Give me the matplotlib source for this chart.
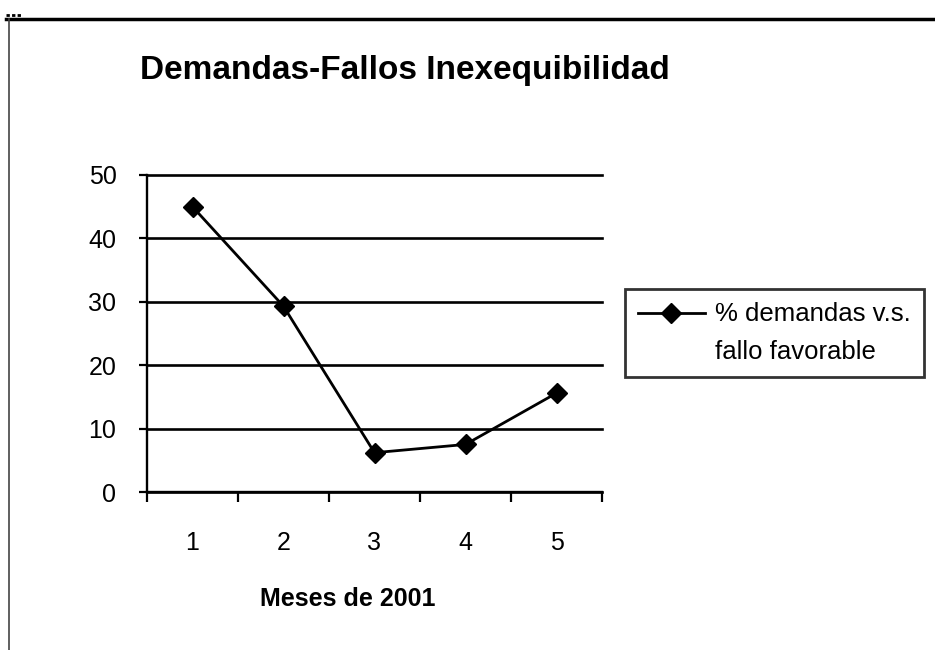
import matplotlib
matplotlib.use("Agg")
import matplotlib.pyplot as plt
from matplotlib.lines import Line2D
from matplotlib.legend_handler import HandlerLine2D

months = [1, 2, 3, 4, 5]
values = [45, 29.3, 6.2, 7.5, 15.6]
yticks = [0, 10, 20, 30, 40, 50]
title = "Demandas-Fallos Inexequibilidad"
xlabel = "Meses de 2001"
series_label = "% demandas v.s.\nfallo favorable"

plt.rcParams['font.family'] = ['Liberation Sans', 'DejaVu Sans']


class ShiftedLineHandler(HandlerLine2D):
    """Line handle aligned with the first line of a two-line label."""
    def __init__(self, shift, **kw):
        super().__init__(**kw)
        self.shift = shift

    def create_artists(self, legend, orig_handle, xdescent, ydescent,
                       width, height, fontsize, trans):
        arts = super().create_artists(legend, orig_handle, xdescent, ydescent,
                                      width, height, fontsize, trans)
        for a in arts:
            a.set_ydata([y + self.shift for y in a.get_ydata()])
        return arts


fig = plt.figure(figsize=(9.35, 6.5), dpi=100)
fig.patch.set_facecolor('white')
ax = fig.add_axes([147/935, 1-492/650, (602-147)/935, (492-175)/650])

line, = ax.plot(months, values, color='black', lw=2, marker='D', markersize=10,
                markerfacecolor='black', markeredgecolor='black', label=series_label)

ax.set_xlim(0.5, 5.5)
ax.set_ylim(0, 50)
ax.set_yticks(yticks)
ax.yaxis.grid(True, color='black', lw=1.9)
ax.set_axisbelow(True)
for gl in ax.get_ygridlines():
    gl.set_clip_on(False)
for s in ['top', 'right']:
    ax.spines[s].set_visible(False)
for s in ['left', 'bottom']:
    ax.spines[s].set_linewidth(1.7)
    ax.spines[s].set_color('black')

ax.set_xticks([0.5, 1.5, 2.5, 3.5, 4.5, 5.5])
ax.set_xticklabels([])
ax.set_xticks(months, minor=True)
ax.set_xticklabels([str(m) for m in months], minor=True)
ax.tick_params(axis='x', which='major', length=7, width=1.6, direction='out')
ax.tick_params(axis='x', which='minor', length=0, pad=28, labelsize=18)
ax.tick_params(axis='y', length=6, width=1.6, direction='out', pad=16, labelsize=18)

ax.set_xlabel(xlabel, fontsize=18, fontweight='bold')
ax.xaxis.set_label_coords(0.442, -0.30)

fig.text(405/935, 1-71/650, title, fontsize=24, fontweight='bold', ha='center', va='center')

leg = ax.legend(loc='upper left', bbox_to_anchor=(625/935, 1-289/650),
                bbox_transform=fig.transFigure, borderaxespad=0, fontsize=18.5,
                fancybox=False, frameon=True, handlelength=2.6, handletextpad=0.4,
                borderpad=0.5,
                handler_map={line: ShiftedLineHandler(shift=15)})
leg.get_frame().set_edgecolor('black')
leg.get_frame().set_linewidth(2)
for t in leg.get_texts():
    t.set_linespacing(1.75)

# outer frame lines
fig.add_artist(Line2D([6/935, 1.0], [1-19/650, 1-19/650], transform=fig.transFigure,
                      color='black', lw=2.5))
fig.add_artist(Line2D([9/935, 9/935], [0, 1-19/650], transform=fig.transFigure,
                      color='#444444', lw=1.2))
fig.add_artist(Line2D([6/935, 22/935], [1-15/650, 1-15/650], transform=fig.transFigure,
                      color='black', lw=2, linestyle=(0, (1.2, 0.8))))

fig.savefig("out.png", dpi=100, facecolor='white')
